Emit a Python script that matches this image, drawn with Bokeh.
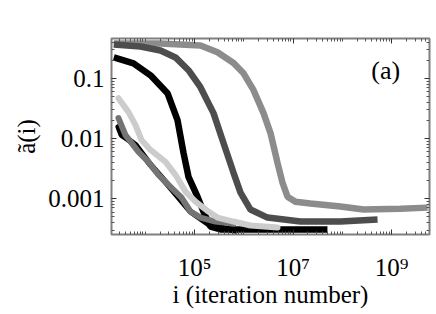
from bokeh.plotting import figure
from bokeh.models import Range1d, FixedTicker, LogAxis, Label
from bokeh.embed import file_html
from bokeh.resources import INLINE

# ---- data ----
a_x = [2300, 2.04e4, 1.32e5, 2.93e5, 6.2e5, 9.9e5, 1.58e6, 2.52e6, 3.49e6, 4.84e6,
       6.12e6, 7.73e6, 1.12e7, 2.26e7, 9.2e7, 2.7e8, 1.52e9, 5.4e9]
a_y = [0.38, 0.38, 0.35, 0.27, 0.18, 0.121, 0.0634, 0.0264, 0.0123, 0.00394,
       0.00184, 0.00108, 0.00089, 0.00083, 0.00074, 0.00066, 0.00068, 0.00071]

b_x = [2300, 8020, 2.04e4, 4.11e4, 7.55e4, 1.32e5, 2.43e5, 3.88e5, 6.2e5, 8.59e5,
       1.37e6, 3.03e6, 1.42e7, 9.2e7, 5.2e8]
b_y = [0.365, 0.338, 0.29, 0.222, 0.136, 0.071, 0.0264, 0.00843, 0.00269, 0.00126,
       0.00066, 0.000485, 0.000417, 0.000417, 0.00045]

c_x = [2300, 5770, 1.28e4, 2.83e4, 4.52e4, 5.98e4, 7.55e4, 1.15e5, 1.52e5, 2.11e5,
       3.37e5, 2.19e6, 1.42e7, 5.0e7]
c_y = [0.222, 0.177, 0.112, 0.0565, 0.0202, 0.00575, 0.00231, 0.00108, 0.00061,
       0.000344, 0.000308, 0.000308, 0.000308, 0.000308]

d_x = [2860, 4570, 6340, 8390, 1.28e4, 2.58e4, 4.11e4, 6.57e4, 1.05e5, 1.92e5,
       2.93e5, 6.2e5, 1.37e6, 4.84e6]
d_y = [0.0467, 0.0274, 0.0167, 0.00944, 0.00645, 0.00409, 0.00249, 0.00131, 0.00089,
       0.00061, 0.000485, 0.000417, 0.000358, 0.000332]

e_x = [2860, 3970, 7300, 1.16e4, 1.86e4, 2.96e4, 5.45e4, 8.3e4, 1.32e5, 2.67e5, 6.2e5]
e_y = [0.0218, 0.0114, 0.00598, 0.00409, 0.00249, 0.0017, 0.00104, 0.00061,
       0.000485, 0.000417, 0.000386]

f_x = [2860, 3300, 4370, 6340, 1.28e4, 3.26e4, 8.3e4, 2.11e5, 6.8e5]
f_y = [0.0155, 0.0114, 0.0098, 0.00782, 0.00365, 0.00152, 0.00061, 0.000358, 0.000296]

x_major = [100000, 10000000, 1000000000]
x_labels = ["10\u2075", "10\u2077", "10\u2079"]
y_major = [0.1, 0.01, 0.001]
y_labels = ["0.1", "0.01", "0.001"]

FONT = "Liberation Serif"
FS = "25px"

p = figure(width=434, height=310, x_axis_type="log", y_axis_type="log",
           x_range=Range1d(2065, 5.9e9), y_range=Range1d(2.54e-4, 0.458),
           output_backend="svg", toolbar_location=None,
           min_border_left=111, min_border_right=5, min_border_top=38,
           min_border_bottom=10)
p.grid.visible = False
p.background_fill_color = "white"
p.border_fill_color = "white"
p.outline_line_color = "#808080"
p.outline_line_width = 2

x_minor = [k * 10 ** n for n in range(3, 10) for k in range(1, 10)]
x_minor = [v for v in x_minor if v not in x_major]
y_minor = [k * 10.0 ** n for n in range(-4, 0) for k in range(1, 10)]
y_minor = [v for v in y_minor if all(abs(v - m) > 1e-12 for m in y_major)]


def style(ax, labels=True):
    ax.axis_line_color = None
    ax.major_tick_in = 5
    ax.major_tick_out = 0
    ax.minor_tick_in = 3
    ax.minor_tick_out = 0
    ax.major_tick_line_color = "#333333"
    ax.minor_tick_line_color = "#555555"
    ax.major_label_text_font = FONT
    ax.major_label_text_font_size = FS
    ax.major_label_text_color = "black"
    ax.axis_label_text_font = FONT
    ax.axis_label_text_font_size = FS
    ax.axis_label_text_font_style = "normal"
    ax.axis_label_text_color = "black"
    if not labels:
        ax.major_label_text_font_size = "1px"
        ax.major_label_text_alpha = 0
        ax.major_label_standoff = 0


xa = p.xaxis[0]
xa.ticker = FixedTicker(ticks=x_major, minor_ticks=x_minor)
xa.major_label_overrides = dict(zip(x_major, x_labels))
xa.axis_label = "i (iteration number)"
style(xa)
xa.major_label_standoff = 19
xa.axis_label_standoff = -3

ya = p.yaxis[0]
ya.ticker = FixedTicker(ticks=y_major, minor_ticks=y_minor)
ya.major_label_overrides = dict(zip(y_major, y_labels))
ya.axis_label = "\u00e3(i)"
style(ya)
ya.major_label_standoff = 7
ya.axis_label_standoff = 5

ra = LogAxis(ticker=FixedTicker(ticks=y_major, minor_ticks=y_minor))
style(ra, labels=False)
p.add_layout(ra, "right")
ta = LogAxis(ticker=FixedTicker(ticks=x_major, minor_ticks=x_minor))
style(ta, labels=False)
p.add_layout(ta, "above")

p.line(a_x, a_y, line_color="#8c8c8c", line_width=6.5)
p.line(b_x, b_y, line_color="#4d4d4d", line_width=6.5)
p.line(f_x, f_y, line_color="#000000", line_width=6, line_cap="round")
p.line(c_x, c_y, line_color="#000000", line_width=6.5)
p.line(e_x, e_y, line_color="#747474", line_width=6, line_cap="round")
p.line(d_x, d_y, line_color="#cccccc", line_width=6, line_cap="round")

p.add_layout(Label(x=7.6e8, y=0.135, text="(a)", text_font=FONT,
                   text_font_size="26px", text_align="center",
                   text_baseline="middle", text_color="black"))

open("out.html", "w").write(file_html(p, INLINE))
